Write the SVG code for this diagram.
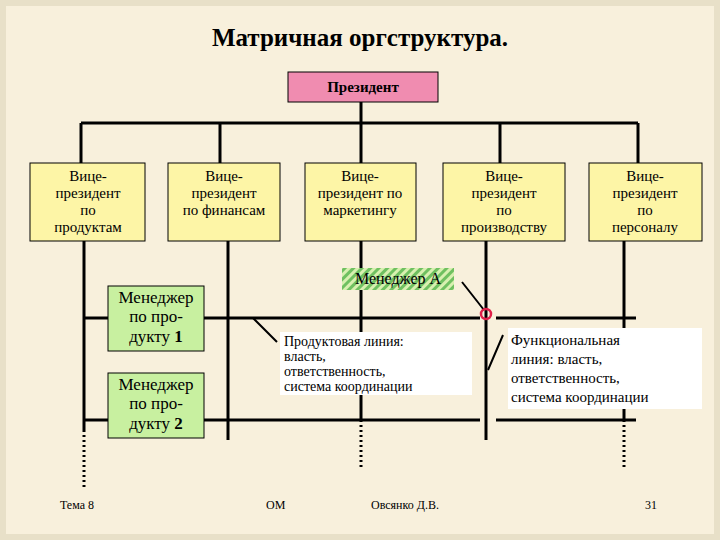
<svg xmlns="http://www.w3.org/2000/svg" width="720" height="540" viewBox="0 0 720 540" font-family="'Liberation Serif', 'Times New Roman', 'DejaVu Serif', serif">
<defs>
<pattern id="hatch" width="6" height="6" patternUnits="userSpaceOnUse" patternTransform="rotate(45)"><rect width="6" height="6" fill="#d8f0b0"/><rect width="3" height="6" fill="#6fc060"/></pattern>
</defs>
<style>
.vp{fill:#fdf5a6;stroke:#000;stroke-width:1}
.mg{fill:#c8f0a0;stroke:#000;stroke-width:1}
.ln{stroke:#000;stroke-width:3;fill:none}
.dt{stroke:#000;stroke-width:3;stroke-dasharray:2 3;fill:none}
</style>
<rect width="720" height="540" fill="#e8e0c8"/>
<rect x="6" y="6" width="708" height="528" fill="#f8f0dc"/>
<text x="360" y="46" font-size="25" font-weight="bold" text-anchor="middle">Матричная оргструктура.</text>
<g id="connectors">
<path class="ln" d="M361 102V123M81 123H638M81 123V163M220 123V163M361 123V163M500 123V163M638 123V163"/>
<path class="ln" d="M84 241V430M228 241V440M361 241V335M361 395V420M486 241V440M624 241V420"/>
<path class="dt" d="M84 430V488M361 420V470M624 420V470"/>
<path class="ln" d="M84 318H108M204 318H480M496 318H636M84 420H108M204 420H480M496 420H636"/>
<path stroke="#000" stroke-width="2" d="M253 318L277 342M488 370L503 335M484 310L462 282"/>
<circle cx="486" cy="314" r="5" fill="none" stroke="#e0204a" stroke-width="2.5"/>
</g>
<g id="president"><rect x="288" y="72" width="150" height="30" fill="#f08cb0" stroke="#000"/><text x="363" y="92" font-size="15" font-weight="bold" text-anchor="middle">Президент</text></g>
<g id="vp1"><rect class="vp" x="30" y="163" width="115" height="78"/><text font-size="15" text-anchor="middle"><tspan x="88" y="181">Вице-</tspan><tspan x="88" y="198">президент</tspan><tspan x="88" y="215">по</tspan><tspan x="88" y="232">продуктам</tspan></text></g>
<g id="vp2"><rect class="vp" x="168" y="163" width="112" height="78"/><text font-size="15" text-anchor="middle"><tspan x="224" y="181">Вице-</tspan><tspan x="224" y="198">президент</tspan><tspan x="224" y="215">по финансам</tspan></text></g>
<g id="vp3"><rect class="vp" x="305" y="163" width="111" height="78"/><text font-size="15" text-anchor="middle"><tspan x="360" y="181">Вице-</tspan><tspan x="360" y="198">президент по</tspan><tspan x="360" y="215">маркетингу</tspan></text></g>
<g id="vp4"><rect class="vp" x="443" y="163" width="122" height="78"/><text font-size="15" text-anchor="middle"><tspan x="504" y="181">Вице-</tspan><tspan x="504" y="198">президент</tspan><tspan x="504" y="215">по</tspan><tspan x="504" y="232">производству</tspan></text></g>
<g id="vp5"><rect class="vp" x="589" y="163" width="113" height="78"/><text font-size="15" text-anchor="middle"><tspan x="645" y="181">Вице-</tspan><tspan x="645" y="198">президент</tspan><tspan x="645" y="215">по</tspan><tspan x="645" y="232">персоналу</tspan></text></g>
<g id="m1"><rect class="mg" x="108" y="286" width="96" height="65"/><text font-size="17" text-anchor="middle"><tspan x="156" y="303">Менеджер</tspan><tspan x="156" y="322">по про-</tspan><tspan x="156" y="342">дукту <tspan font-weight="bold">1</tspan></tspan></text></g>
<g id="m2"><rect class="mg" x="108" y="373" width="96" height="65"/><text font-size="17" text-anchor="middle"><tspan x="156" y="390">Менеджер</tspan><tspan x="156" y="409">по про-</tspan><tspan x="156" y="429">дукту <tspan font-weight="bold">2</tspan></tspan></text></g>
<g id="managerA"><rect x="342" y="268" width="112" height="22" fill="url(#hatch)"/><text x="398" y="284" font-size="16" text-anchor="middle">Менеджер А</text></g>
<g id="prodline"><rect x="280" y="332" width="192" height="63" fill="#fff"/><text font-size="14"><tspan x="284" y="346">Продуктовая линия:</tspan><tspan x="284" y="361">власть,</tspan><tspan x="284" y="376">ответственность,</tspan><tspan x="284" y="391">система координации</tspan></text></g>
<g id="funcline"><rect x="508" y="328" width="194" height="81" fill="#fff"/><text font-size="15"><tspan x="511" y="345">Функциональная</tspan><tspan x="511" y="364">линия: власть,</tspan><tspan x="511" y="383">ответственность,</tspan><tspan x="511" y="402">система координации</tspan></text></g>
<g id="footer" font-size="12"><text x="60" y="509">Тема 8</text><text x="266" y="509">ОМ</text><text x="371" y="509">Овсянко Д.В.</text><text x="645" y="509">31</text></g>
</svg>
